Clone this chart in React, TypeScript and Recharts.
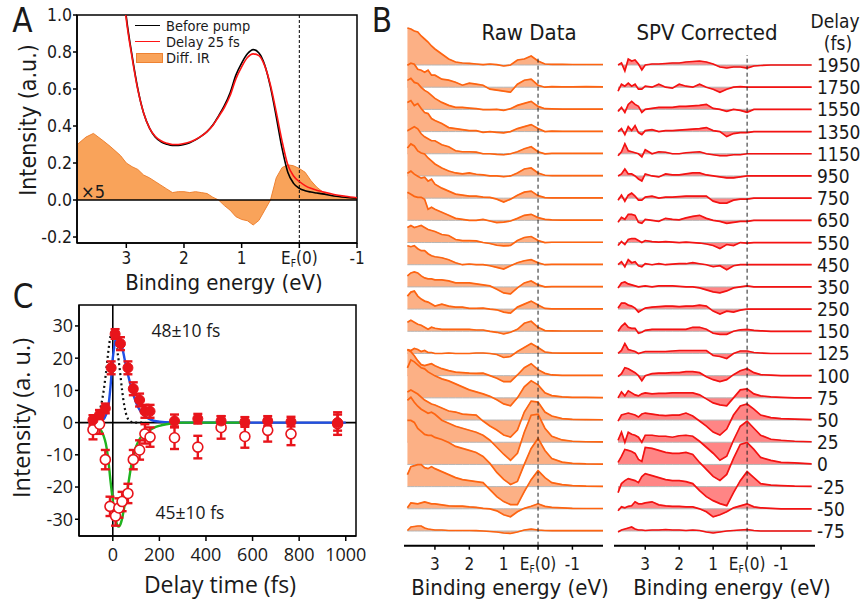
import React from 'react';
import {
  ComposedChart, Line, Area, XAxis, YAxis, ReferenceLine, ReferenceArea, Scatter, ErrorBar,
} from 'recharts';

const FONT_AB = "'DejaVu Sans Condensed', 'Liberation Sans', Arial, sans-serif";
const FONT_C = "'Open Sans', 'Liberation Sans', sans-serif";
const TXT = '#1a1a1a';

// ---------------- Panel A data ----------------
const energyA = [3.85, 3.7, 3.57, 3.4, 3.28, 3.1, 3.0, 2.9, 2.8, 2.7, 2.6, 2.5, 2.4, 2.3, 2.2, 2.1, 2.0, 1.9, 1.8, 1.7, 1.6, 1.5, 1.4, 1.3, 1.2, 1.1, 1.0, 0.9, 0.8, 0.7, 0.6, 0.5, 0.4, 0.3, 0.2, 0.1, 0.0, -0.1, -0.2, -0.3, -0.4, -0.6, -0.8, -1.0];
const beforePump = [null, null, null, null, null, 1.3, 0.99, 0.78, 0.6, 0.47, 0.39, 0.34, 0.315, 0.302, 0.295, 0.295, 0.30, 0.31, 0.325, 0.345, 0.37, 0.405, 0.455, 0.51, 0.58, 0.675, 0.74, 0.79, 0.813, 0.795, 0.73, 0.61, 0.45, 0.28, 0.15, 0.09, 0.063, 0.05, 0.043, 0.038, 0.033, 0.022, 0.015, 0.01];
const delay25 = [null, null, null, null, null, 1.28, 0.975, 0.77, 0.595, 0.47, 0.39, 0.345, 0.32, 0.307, 0.30, 0.30, 0.305, 0.313, 0.327, 0.345, 0.37, 0.403, 0.45, 0.5, 0.565, 0.655, 0.72, 0.77, 0.79, 0.78, 0.725, 0.62, 0.475, 0.32, 0.19, 0.13, 0.1, 0.078, 0.063, 0.053, 0.045, 0.03, 0.02, 0.012];
const diffIR = [0.30, 0.34, 0.36, 0.32, 0.29, 0.24, 0.2, 0.18, 0.165, 0.135, 0.12, 0.1, 0.08, 0.06, 0.04, 0.045, 0.045, 0.04, 0.045, 0.04, 0.035, 0.015, 0.0, -0.03, -0.055, -0.09, -0.105, -0.112, -0.135, -0.11, -0.055, 0.0, 0.12, 0.175, 0.19, 0.185, 0.17, 0.15, 0.105, 0.07, 0.045, 0.022, 0.012, 0.005];
const energyTicksA = [3, 2, 1, 0, -1];
const intensityTicksA = [-0.2, 0, 0.2, 0.4, 0.6, 0.8, 1.0];

// ---------------- Panel B data ----------------
const energiesB = [3.8, 3.7, 3.6, 3.5, 3.4, 3.3, 3.2, 3.1, 3.0, 2.8, 2.6, 2.4, 2.2, 2.0, 1.8, 1.6, 1.4, 1.2, 1.0, 0.8, 0.6, 0.4, 0.2, 0.0, -0.2, -0.4, -0.7, -1.0, -1.4, -1.9];
const delays = ['1950', '1750', '1550', '1350', '1150', '950', '750', '650', '550', '450', '350', '250', '150', '125', '100', '75', '50', '25', '0', '-25', '-50', '-75'];

const raw1950 = [37, 36, 34, 33, 29, 26, 23, 19, 16, 11, 6, 3, 2, 1.7, 1, 0.3, 1, 0.3, -1, 0, 5, 6, 9, 4, 1, 0.7, 0.7, 0.5, 0.5, 0.5];
const raw1750 = [22, 24, 23, 18, 17, 15, 17, 12, 12, 8, 7, 5, 2, 4, 3, 2, -2, -3, -4, -5, 3, 7, 8, 2, 0, 0.5, 0.3, 0.3, 0.5, 0.3];
const raw1550 = [29, 31, 27, 26, 22, 19, 17, 14, 11, 7, 4, 2, 2, 1.3, 0.7, -0.3, -0.3, 0, -1, 0.7, 4, 6, 8, 3, 0.7, 0.5, 0.3, 0.3, 0.3, 0.3];
const raw1350 = [29, 31, 26, 28, 23, 19, 18, 13, 11, 8, 4, 3, 2, 1, 1, -0.7, 0, -0.7, -1.3, 0, 3, 5, 7, 3, 0, 0.5, 0.3, 0.3, 0.3, 0.3];
const raw1150 = [23, 25, 27, 25, 20, 17, 15, 13, 13, 9, 7, 3, 2, 2, 1.7, 0, 0, -0.7, -1, 0, 2, 5, 7, 2, 0, 0.3, 0.3, 0.3, 0.3, 0.3];
const raw950 = [28, 32, 30, 25, 23, 22, 18, 15, 12, 8, 5, 3, 2, 3, 1.7, 1, 0, 0, -0.7, 0, 3, 7, 8, 3, 0.7, 0.3, 0.3, 0.3, 0.3, 0.3];
const raw750 = [25, 27, 24, 22, 20, 21, 17, 19, 14, 10, 7, 4, 3, 2, 2, 1, 0.7, -1, -4, -1, 3, 6, 7, 2.5, 0.5, 0.3, 0.3, 0.3, 0.3, 0.3];
const raw650 = [28, 26, 24, 23, 23, 21, 11, 13, 11, 8, 5, 2, 1, 0, 0, 1, -0.7, -2.3, -1.7, -0.7, 2, 5, 6, 2.7, 1, 0.5, 0.3, 0.3, 0.3, 0.3];
const raw550 = [15, 17, 15, 16, 17, 15, 13, 12, 11, 8, 7, 3, 2, 2, 1.7, 0, -1, -2.7, -3.3, -3, 2, 5, 6, 2, 0, 0.3, 0.3, 0.3, 0.3, 0.3];
const raw450 = [19, 18, 19, 16, 14, 14, 11, 9, 8, 7, 5, 2, 0, 0.7, 0, 0, -1, -2.7, -4.3, -1, 2, 4, 5, 2, 0, 0.3, 0.3, 0.3, 0.3, 0.3];
const raw350 = [11, 14, 15, 14, 11, 9, 8, 8, 7, 7, 6, 4, 4, 4, 3, 2, 1, -2.3, -6, -7, -1, 4, 6, 2, 0, 0.3, 0.3, 0.3, 0.3, 0.3];
const raw250 = [13, 17, 18, 13, 10, 8, 7, 5, 3, 5, 3, 2, 2, 0.7, 0.7, 1, 0, -0.7, -3, -4, 2, 5, 8, 4, 0.7, 0.3, 0.3, 0.3, 0.3, 0.3];
const raw150 = [9, 11, 9, 7, 6, 4, 2, 4, 3, 2, 2, 2, 2, 2, 1.3, 1.3, 0, -1, -2.7, -1, 2, 8, 10, 4, 0.7, 0.5, 0.3, 0.3, 0.3, 0.3];
const raw125 = [4, 3, 5, 4, 2, 3, 1, 1, 0, 0, 0.5, 0, 0, 0, 0.5, 0.5, 0, -1, -4, -3, 2, 6, 10, 6, 1.5, 0.7, 0.3, 0.3, 0.3, 0.3];
const raw100 = [26, 24, 20, 15, 11, 10, 11, 12, 10, 7, 5, 3.5, 3, 2.5, 2.3, 2.5, 0, -2.5, -6, -6, 0.7, 8, 12, 6, 2.3, 0.7, 0.3, 0.3, 0.3, 0.3];
const raw75 = [30, 38, 36, 33, 30, 29, 26, 24, 22, 19, 17, 14, 11, 8, 6, 4, 1.5, -2, -6, -8, 0, 11, 17, 13, 5, 2.3, 1, 0.5, 0.5, 0.3];
const raw50 = [28, 30, 28, 26, 23, 20, 18, 16, 15, 12, 9, 8, 6, 5.5, 5, -1, -6, -10, -15, -17, -10, 8, 19, 18, 8, 4, 1.5, 0.7, 0.5, 0.3];
const raw25 = [42, 45, 40, 36, 33, 31, 29, 30, 28, 22, 19, 16, 14, 12, 10, 7, 2, -5, -12, -18, -11, 10, 27, 28, 14, 6, 2.3, 1, 0.5, 0.3];
const raw0 = [44, 44, 42, 36, 33, 30, 29, 29, 27, 25, 22, 18, 16, 14, 12, 8, 1, -8, -15, -20, -17, 0, 16, 26, 14, 6, 2.3, 1, 0.5, 0.3];
const rawM25 = [12, 20, 21, 22, 22, 19, 18, 20, 18, 15, 12, 9, 7, 6, 5, 4, -3, -10, -15, -18, -18, -5, 7, 16, 9, 4, 2, 1, 0.5, 0.3];
const rawM50 = [1, 6, 5.5, 5, 6, 7, 6, 5, 5, 4, 3, 2.7, 2.7, 2, 1.5, 0.5, 0, -2, -6, -8, -3, 0.5, 2.5, 5, 2.5, 1.5, 1, 0.5, 0.3, 0.3];
const rawM75 = [0.5, 4, 4.5, 5, 5, 3, 2, 1.5, 1, 1, 0.5, 0.5, 0.5, 0.5, 0.3, 0, -0.5, -1, -2, -2.5, -1, 1, 2, 1, 0.5, 0.3, 0.3, 0.3, 0.3, 0.3];

const spv1950 = [0, 2, -6, 6, 4, 5, 1, -5, 0, 1, 1, 1.5, 2, 2, 3, 3.5, 4, 3, 1, -2, -3, -2, -2, -3, -1, -0.5, 0, 0, 0, 0];
const spv1750 = [-4, 3, 1, 4, 1, 3, -2, -2, 1, 0, 3, 0, -1, 3, 1, 0, 3, 0, -2, -5, -2, 0, 0.5, 0, 0, 0, 0, 0, 0, 0];
const spv1550 = [-2, 2, -3, 5, 8, 5, 3, -3, 0, 1, 2, 2, 2, 3, 3, 3.5, 4, 5, 1, 0, -2, 0, -1, -3, 0, 0, 0, 0, 0, 0];
const spv1350 = [0, 3, -3, 5, 1, 6, -1, -3, 1, 2, 0, 1, 1, 1.5, 2, 2.5, 3, 4, 1, 0, -5, -2, -1, -1, 0, 0, 0, 0, 0, 0];
const spv1150 = [-2, 2, 10, 3, 2, 1, 0, -3, 4, 0, 2, 1.5, 0, 0, 1, 1.5, 2, 0, -1, -2, -2, -1, -1, 0, 0, 0, 0, 0, 0, 0];
const spv950 = [0, 2, 7, 2, 2, 0, -3, -5, 2, 0, -1, 2, 1, 1, 2, 3, 3, 1, 0, -1, -2, -2, -1, 0, 0, 0, 0, 0, 0, 0];
const spv750 = [-2, 3, -3, 3, 5, 2, -2, -2, 1, 2, 0, 1, 1, 1.5, 2, 2, 2, 2, -3, -5, -5, -2, -1, -1, 0, 0, 0, 0, 0, 0];
const spv650 = [-2, 3, 1, 6, 6, 5, -2, -3, 1, 0, -1, 2, 1, 0.5, 2.5, 4, 5, 2, 0, -1, -3, -2, -1, -1, 0, 0, 0, 0, 0, 0];
const spv550 = [-3, 1, -2, 3, 4, 4, 2, 0, 2, 1, 0.5, 1, 0.5, 0, 0.5, 0, -0.5, -1.5, -3, -6, -2, -3, 0, -0.5, 0, 0, 0, 0, 0, 0];
const spv450 = [0, 3, -2, 5, 2, 3, -1, -2, 1, 0, 1, 0, 0.5, 1, 1, 2, 1, 0, -2, -1, -5, -1, 0, 0, 0, 0, 0, 0, 0, 0];
const spv350 = [-1, 4, 5, 3, 2, 1, 0, 0.5, 1, 0, 1, 1, 1, 0.5, 0, 0, -1, -3, -5, -6, -4, -1, 0, 1, 0, 0, 0, 0, 0, 0];
const spv250 = [1, 6, 6, 4, 3, 1, -3, -1, 1, 2, 2.5, 3, 3, 2.5, 3, 3, 4, 3, -2, -5, -2, -3, -1, 0, 0, 0, 0, 0, 0, 0];
const spv150 = [0, 5, 8, 4, 3, 3, -2, -1, 1, 2, 2, 2, 2, 2, 2, 4, 4, 2, -2, -3, -3, 0, 1.5, 2, 1, 0.5, 0, 0, 0, 0];
const spv125 = [0, 3, 10, 4, 3, 2, 0, 1, 2, 2, 2, 2, 2.5, 3, 3, 3, 3, 3, -2, -3, -5, 0, 2.5, 2.5, 1, 0.5, 0, 0, 0, 0];
const spv100 = [-1, 2, 8, 7, 5, 3, 0, -5, 0, 2, 2.5, 2.5, 3, 3, 4, 4, 3, -1, -4, -6, -4, 1, 5, 7, 3, 1, 0.5, 0, 0, 0];
const spv75 = [0, 6, 2, 7, 5, 3, 2, 4, 5, 4, 4.5, 4.5, 5, 5, 5, 5, 3, -1, -5, -7, -8, 0, 8, 9, 4, 2, 1, 0.5, 0, 0];
const spv50 = [-1, 5, 6, 7, 6, 5, 3, 6, 7, 6, 5, 4.5, 5, 5, 7, 4, -1, -6, -12, -15, -9, 5, 14, 16, 11, 5, 2.5, 1.5, 1, 0.5];
const spv25 = [2, 10, 0, 10, 8, 7, 5, 0, 7, 7, 6, 6, 5, 6.5, 7, 6, 1, -5, -11, -18, -14, 2, 16, 21, 14, 7, 3, 2, 1, 0.5];
const spv0 = [2, 8, 15, 14, 13, 11, 5, 3, 17, 16, 14, 12, 11, 11, 12, 10, 2, -5, -12, -16, -10, 6, 20, 22, 15, 7, 4, 2, 1.5, 0.5];
const spvM25 = [-6, 3, 6, 8, 7, 6, 4, 10, 13, 11, 9, 7, 6, 6, 5, 3, -4, -10, -14, -17, -19, -6, 6, 15, 9, 3, 1.5, 1, 0.5, 0.3];
const spvM50 = [-2, 2, 1, 2.5, 3, 7, 5, 5, 6, 7, 4, 3, 2.5, 2.5, 2, 2, 0, -3, -8, -6, -3, 1, 3, 5, 2, 1, 0.5, 0, 0, 0];
const spvM75 = [-1, 1, 2, 3, 4, 2, 1, 1, 0.5, 1, 1, 1.5, 1, 1, 0.5, 1, 0.5, -1, -2, -1, 0, 0.5, 1, 1.5, 0.5, 0, 0, 0, 0, 0];

const rawSpectra = [raw1950, raw1750, raw1550, raw1350, raw1150, raw950, raw750, raw650, raw550, raw450, raw350, raw250, raw150, raw125, raw100, raw75, raw50, raw25, raw0, rawM25, rawM50, rawM75];
const spvSpectra = [spv1950, spv1750, spv1550, spv1350, spv1150, spv950, spv750, spv650, spv550, spv450, spv350, spv250, spv150, spv125, spv100, spv75, spv50, spv25, spv0, spvM25, spvM50, spvM75];
const energyTicksB = [3, 2, 1, 0, -1];

// ---------------- Panel C data ----------------
const filledT = [-85, -57, -32, -7, 10, 33, 65, 88, 115, 138, 160, 265, 365, 465, 567, 665, 765, 965];
const filledV = [0.8, 2.4, 4.4, 17, 27.5, 24.5, 17, 10.5, 7, 3.5, 3.5, 0.5, 1.2, 0.5, 0.2, 0.5, 0.3, 0];
const filledErr = [1.5, 1.5, 1.5, 2, 1.5, 2, 2, 2, 2, 2, 2, 2, 1.5, 1.5, 1.5, 1.5, 1.5, 2.5];
const openT = [-85, -57, -32, -12, 12, 26, 40, 65, 88, 115, 138, 160, 265, 365, 465, 567, 665, 765, 965];
const openV = [-2.2, -0.5, -11.5, -26, -29, -26.5, -24.5, -22, -11.5, -8.5, -3.5, -4.5, -4.7, -7.6, -1.5, -4.3, -2.4, -3.5, -0.3];
const openErr = [3, 3, 3, 3, 3, 3, 3, 3, 3, 3, 3, 3, 3.5, 3.5, 3.5, 3.5, 3.5, 3.5, 3.5];
const blueT = [-100, -60, -40, -30, -20, -10, 0, 10, 20, 30, 40, 50, 60, 70, 80, 90, 100, 110, 120, 140, 160, 180, 200, 250, 300, 1000];
const blueV = [0, 0.3, 1, 2.3, 4.5, 11, 20, 25, 27, 26.5, 23.5, 20, 16.5, 13.5, 10.8, 8.3, 6.2, 4.6, 3.4, 1.9, 1.0, 0.5, 0.3, 0.05, 0, 0];
const greenT = [-100, -80, -60, -40, -30, -20, -10, 0, 10, 20, 25, 30, 40, 50, 60, 70, 80, 90, 100, 110, 120, 140, 160, 180, 200, 230, 260, 300, 570];
const greenV = [0, -0.5, -1.5, -4, -6.5, -11, -18, -24, -29, -32, -32.3, -32, -29.8, -26, -22, -17.5, -13, -9.8, -7.5, -5.8, -4.6, -3.2, -2.3, -1.5, -1, -0.5, -0.2, 0, 0];
const pulseT = [-100, -80, -60, -50, -40, -30, -20, -10, -3, 0, 10, 20, 30, 40, 50, 60, 70, 90, 140];
const pulseV = [0, 0.6, 3, 5.5, 9.5, 15, 21.5, 26.8, 28.3, 28, 26.5, 22, 16.5, 10, 5, 2, 0.7, 0, 0];
const timeTicksC = [0, 200, 400, 600, 800, 1000];
const intensityTicksC = [-30, -20, -10, 0, 10, 20, 30];

// ---------------- helpers ----------------
const STEP = 22.19; // vertical offset between stacked spectra (a.u.)

function makeEnergyTick(fontSize: number, family: string) {
  return (props: any) => {
    const { x, y, payload } = props;
    const v = payload.value;
    if (v === 0) {
      return (
        <text x={x} y={y} dy="0.71em" textAnchor="middle" fontSize={fontSize} fontFamily={family} fill={TXT}>
          E<tspan fontSize={fontSize * 0.6} dy={fontSize * 0.18}>F</tspan>
          <tspan dy={-fontSize * 0.18}>(0)</tspan>
        </text>
      );
    }
    return (
      <text x={x} y={y} dy="0.71em" textAnchor="middle" fontSize={fontSize} fontFamily={family} fill={TXT}>
        {String(v)}
      </text>
    );
  };
}

function Txt(p: { x: number; y: number; size: number; family?: string; anchor?: 'start' | 'middle'; rotate?: number; children: React.ReactNode; color?: string }) {
  const tx = p.anchor === 'start' ? '0' : '-50%';
  return (
    <div
      style={{
        position: 'absolute', left: p.x, top: p.y,
        transform: `translate(${tx}, -50%) rotate(${p.rotate || 0}deg)`,
        fontSize: p.size, fontFamily: p.family || FONT_AB, lineHeight: 1,
        whiteSpace: 'nowrap', color: p.color || TXT,
      }}
    >
      {p.children}
    </div>
  );
}

function SpectraPanel(props: {
  spectra: number[][]; left: number; marginLeft: number; marginRight: number; domainX: [number, number];
  lineColor: string; fillColor: string; dashTop: number;
}) {
  const n = props.spectra.length;
  const data = energiesB.map((e, i) => {
    const row: any = { e };
    props.spectra.forEach((s, k) => {
      const off = (n - 1 - k) * STEP;
      row['a' + k] = [off, off + s[i]];
      row['l' + k] = off + s[i];
    });
    return row;
  });
  const tick = makeEnergyTick(17, FONT_AB);
  return (
    <div style={{ position: 'absolute', left: props.left, top: 0 }}>
      <ComposedChart width={240} height={600} data={data}
        margin={{ top: 20, right: props.marginRight, bottom: 0, left: props.marginLeft }}>
        <XAxis type="number" dataKey="e" domain={props.domainX} reversed allowDataOverflow
          ticks={energyTicksB} interval={0} tick={tick} height={54.3} tickSize={4} tickMargin={8}
          axisLine={{ stroke: '#000', strokeWidth: 2 }} tickLine={{ stroke: '#000', strokeWidth: 1.5 }} />
        <YAxis hide type="number" domain={[-14.7, 511]} allowDataOverflow />
        {props.spectra.map((_, k) => (
          <Area key={'a' + k} dataKey={'a' + k} type="linear" stroke="#b5b5b5" strokeWidth={1}
            fill={props.fillColor} fillOpacity={1} dot={false} activeDot={false} isAnimationActive={false} />
        ))}
        {props.spectra.map((_, k) => (
          <Line key={'l' + k} dataKey={'l' + k} type="linear" stroke={props.lineColor} strokeWidth={1.7}
            dot={false} activeDot={false} isAnimationActive={false} />
        ))}
        <ReferenceLine segment={[{ x: 0, y: -14.7 }, { x: 0, y: props.dashTop }]} stroke="#222"
          strokeWidth={1} strokeDasharray="4 3" />
      </ComposedChart>
    </div>
  );
}

const redDot = (p: any) => <circle cx={p.cx} cy={p.cy} r={5} fill="#E8141B" stroke="#E8141B" strokeWidth={1} />;
const openDot = (p: any) => <circle cx={p.cx} cy={p.cy} r={5} fill="#ffffff" stroke="#E8141B" strokeWidth={1.6} />;

export default function App() {
  const dataA = energyA.map((e, i) => ({ e, before: beforePump[i], delay: delay25[i], diff: diffIR[i] }));
  const filledData = filledT.map((t, i) => ({ t, v: filledV[i], err: filledErr[i] }));
  const openData = openT.map((t, i) => ({ t, v: openV[i], err: openErr[i] }));
  const blueData = blueT.map((t, i) => ({ t, v: blueV[i] }));
  const greenData = greenT.map((t, i) => ({ t, v: greenV[i] }));
  const pulseData = pulseT.map((t, i) => ({ t, v: pulseV[i] }));
  const tickA = makeEnergyTick(17, FONT_AB);

  return (
    <div style={{ position: 'absolute', left: 0, top: 0, width: 863, height: 602, background: '#fff', overflow: 'hidden' }}>
      {/* Panel A */}
      <div style={{ position: 'absolute', left: 0, top: 0 }}>
        <ComposedChart width={370} height={300} data={dataA} margin={{ top: 15, right: 13, bottom: 0, left: 0 }}>
          <XAxis type="number" dataKey="e" domain={[-1, 3.855]} reversed allowDataOverflow ticks={energyTicksA}
            interval={0} tick={tickA} height={57} tickSize={5} tickMargin={4}
            axisLine={{ stroke: '#000', strokeWidth: 1.5 }} tickLine={{ stroke: '#000', strokeWidth: 1.5 }} />
          <YAxis type="number" domain={[-0.2324, 1]} allowDataOverflow ticks={intensityTicksA} interval={0}
            tickFormatter={(v: number) => v.toFixed(1)} width={77} tickSize={4} tickMargin={1}
            tick={{ fontSize: 17.5, fontFamily: FONT_AB, fill: TXT }}
            axisLine={{ stroke: '#000', strokeWidth: 1.5 }} tickLine={{ stroke: '#000', strokeWidth: 1.5 }} />
          <Area dataKey="diff" type="linear" fill="#F9A35A" fillOpacity={1} stroke="#EE8232" strokeWidth={1}
            dot={false} activeDot={false} isAnimationActive={false} />
          <ReferenceLine y={0} stroke="#000" strokeWidth={1.6} />
          <ReferenceLine x={0} stroke="#000" strokeWidth={1} strokeDasharray="3 2" />
          <Line dataKey="before" type="monotone" stroke="#000" strokeWidth={1.6} dot={false} activeDot={false} isAnimationActive={false} />
          <Line dataKey="delay" type="monotone" stroke="#FF1414" strokeWidth={1.6} dot={false} activeDot={false} isAnimationActive={false} />
          <ReferenceArea x1={-1} x2={3.855} y1={-0.2324} y2={1} fill="none" stroke="#000" strokeWidth={1.5} />
        </ComposedChart>
      </div>

      {/* Panel C */}
      <div style={{ position: 'absolute', left: 0, top: 290 }}>
        <ComposedChart width={370} height={290} margin={{ top: 15, right: 14, bottom: 0, left: 0 }}>
          <XAxis type="number" dataKey="t" domain={[-145, 1044]} allowDataOverflow ticks={timeTicksC} interval={0}
            height={44} tickSize={5} tickMargin={7} tick={{ fontSize: 18, fontFamily: FONT_C, fill: TXT }}
            axisLine={{ stroke: '#000', strokeWidth: 1.5 }} tickLine={{ stroke: '#000', strokeWidth: 1.5 }} />
          <YAxis type="number" dataKey="v" domain={[-35.2, 36.5]} allowDataOverflow ticks={intensityTicksC} interval={0}
            width={79} tickSize={4} tickMargin={2} tick={{ fontSize: 18, fontFamily: FONT_C, fill: TXT }}
            axisLine={{ stroke: '#000', strokeWidth: 1.5 }} tickLine={{ stroke: '#000', strokeWidth: 1.5 }} />
          <ReferenceLine y={0} stroke="#000" strokeWidth={1.6} />
          <ReferenceLine x={0} stroke="#000" strokeWidth={1.6} />
          <Line data={pulseData} dataKey="v" type="monotone" stroke="#111" strokeWidth={2.2} strokeDasharray="2 3"
            dot={false} activeDot={false} isAnimationActive={false} />
          <Line data={blueData} dataKey="v" type="monotone" stroke="#1F4FE6" strokeWidth={2.4}
            dot={false} activeDot={false} isAnimationActive={false} />
          <Line data={greenData} dataKey="v" type="monotone" stroke="#1FB41F" strokeWidth={2.4}
            dot={false} activeDot={false} isAnimationActive={false} />
          <Scatter data={openData} dataKey="v" shape={openDot} isAnimationActive={false}>
            <ErrorBar dataKey="err" direction="y" width={4.5} stroke="#E8141B" strokeWidth={2.4} />
          </Scatter>
          <Scatter data={filledData} dataKey="v" shape={redDot} isAnimationActive={false}>
            <ErrorBar dataKey="err" direction="y" width={4.5} stroke="#E8141B" strokeWidth={2.4} />
          </Scatter>
          <ReferenceArea x1={-145} x2={1044} y1={-35.2} y2={36.5} fill="none" stroke="#000" strokeWidth={1.5} />
        </ComposedChart>
      </div>

      {/* Panel B */}
      <SpectraPanel spectra={rawSpectra} left={380} marginLeft={24} marginRight={17} domainX={[-1.89, 3.9]}
        lineColor="#FF6410" fillColor="#FCB085" dashTop={473} />
      <SpectraPanel spectra={spvSpectra} left={600} marginLeft={14} marginRight={25} domainX={[-2.0, 3.92]}
        lineColor="#F51212" fillColor="#FF8585" dashTop={476} />

      {/* Texts */}
      <Txt x={22.5} y={20} size={33}>A</Txt>
      <Txt x={382} y={20} size={33}>B</Txt>
      <Txt x={23} y={296} size={33}>C</Txt>

      <Txt x={224} y={283} size={22}>Binding energy (eV)</Txt>
      <Txt x={28} y={120} size={23} rotate={-90}>Intensity (a.u.)</Txt>
      <Txt x={93} y={192} size={18}>×5</Txt>

      <div style={{ position: 'absolute', left: 135, top: 25, width: 25, borderTop: '1.5px solid #000' }} />
      <Txt x={166} y={26} size={14.5} anchor="start">Before pump</Txt>
      <div style={{ position: 'absolute', left: 135, top: 41, width: 25, borderTop: '1.5px solid #FF1414' }} />
      <Txt x={166} y={42} size={14.5} anchor="start">Delay 25 fs</Txt>
      <div style={{ position: 'absolute', left: 136, top: 53, width: 25, height: 8, background: '#F9A35A', border: '1px solid #EE8232' }} />
      <Txt x={166} y={58} size={14.5} anchor="start">Diff. IR</Txt>

      <Txt x={220} y={584} size={23} family={FONT_C}>Delay time (fs)</Txt>
      <Txt x={22} y={418} size={23.5} family={FONT_C} rotate={-90}>Intensity (a. u.)</Txt>
      <Txt x={186} y={331} size={17.5} family={FONT_C}>48±10 fs</Txt>
      <Txt x={190} y={513} size={17.5} family={FONT_C}>45±10 fs</Txt>

      <Txt x={529} y={33} size={22}>Raw Data</Txt>
      <Txt x={707} y={33} size={22}>SPV Corrected</Txt>
      <Txt x={510} y={588} size={22}>Binding energy (eV)</Txt>
      <Txt x={732} y={588} size={22}>Binding energy (eV)</Txt>
      <Txt x={835} y={21} size={19}>Delay</Txt>
      <Txt x={838} y={43} size={19}>(fs)</Txt>
      {delays.map((d, k) => (
        <Txt key={d} x={817} y={65 + k * STEP} size={19} anchor="start">{d}</Txt>
      ))}
    </div>
  );
}
